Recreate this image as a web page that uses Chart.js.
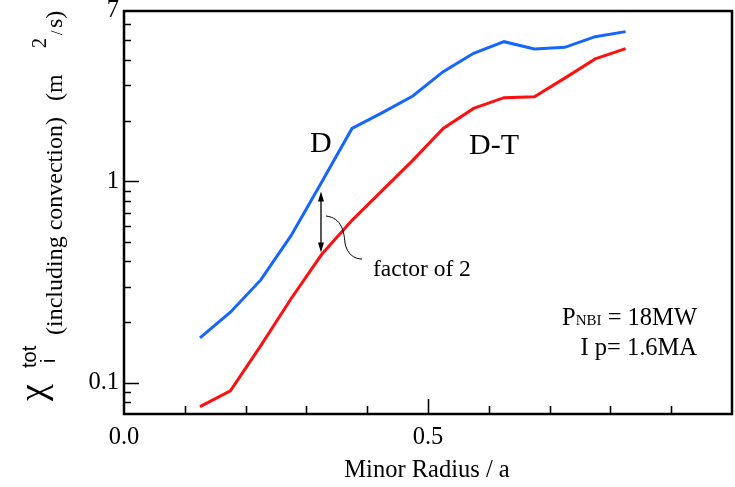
<!DOCTYPE html>
<html>
<head>
<meta charset="utf-8">
<script src="https://cdn.jsdelivr.net/npm/chart.js@4"></script>
<style>
  html, body { margin: 0; padding: 0; background: #fff; }
  #wrap { width: 735px; height: 487px; }
</style>
</head>
<body>
<div id="wrap"><canvas id="myChart" width="735" height="487"></canvas></div>
<script>
'use strict';

// minor radius r/a
const radius = [0.125, 0.175, 0.225, 0.275, 0.325, 0.375, 0.425, 0.475, 0.525, 0.575, 0.625, 0.675, 0.725, 0.775, 0.825];
// chi_i tot (m^2/s)
const chiD = [0.167, 0.224, 0.324, 0.539, 0.99, 1.83, 2.19, 2.65, 3.50, 4.32, 4.93, 4.54, 4.62, 5.22, 5.53];
const chiDT = [0.0762, 0.0912, 0.153, 0.262, 0.433, 0.640, 0.902, 1.27, 1.83, 2.30, 2.60, 2.63, 3.25, 4.05, 4.55];

const yTicks = [0.08, 0.09, 0.1, 0.2, 0.3, 0.4, 0.5, 0.6, 0.7, 0.8, 0.9, 1, 2, 3, 4, 5, 6, 7];
const yLabels = [0.1, 1, 7];
const xTicks = [0.1, 0.2, 0.3, 0.4, 0.5, 0.6, 0.7, 0.8, 0.9];
const xLabels = [0, 0.5];

const serif = '"Liberation Serif", "DejaVu Serif", serif';
const sans = '"Liberation Sans", Arial, sans-serif';

function pts(ys) {
    return radius.map((x, i) => ({x: x, y: ys[i]}));
}

function rotText(ctx, txt, x, y, font) {
    ctx.save();
    ctx.translate(x, y);
    ctx.rotate(-Math.PI / 2);
    ctx.font = font;
    ctx.fillText(txt, 0, 0);
    ctx.restore();
}

const decor = {
    id: 'decor',
    afterDraw(chart) {
        const ctx = chart.ctx;
        const a = chart.chartArea;
        const xs = chart.scales.x, ys = chart.scales.y;
        ctx.save();
        ctx.strokeStyle = '#000';
        ctx.fillStyle = '#000';

        // inward ticks
        ctx.lineWidth = 1.6;
        ctx.beginPath();
        yTicks.forEach(v => {
            if (v >= 7) return;
            const y = Math.round(ys.getPixelForValue(v)) + 0.5;
            const len = (v === 0.1 || v === 1) ? 15 : 7;
            ctx.moveTo(a.left, y);
            ctx.lineTo(a.left + len, y);
        });
        xTicks.forEach(v => {
            const x = Math.round(xs.getPixelForValue(v)) + 0.5;
            const len = Math.abs(v - 0.5) < 1e-6 ? 15 : 8;
            ctx.moveTo(x, a.bottom);
            ctx.lineTo(x, a.bottom - len);
        });
        ctx.stroke();

        // frame
        ctx.lineWidth = 2.5;
        ctx.strokeRect(a.left, a.top, a.right - a.left, a.bottom - a.top);

        // factor-of-2 arrow
        const ax = xs.getPixelForValue(0.324);
        const y1 = ys.getPixelForValue(0.89), y2 = ys.getPixelForValue(0.443);
        ctx.lineWidth = 1.3;
        ctx.beginPath();
        ctx.moveTo(ax, y1 + 6);
        ctx.lineTo(ax, y2 - 6);
        ctx.stroke();
        ctx.beginPath();
        ctx.moveTo(ax, y1); ctx.lineTo(ax - 3, y1 + 10); ctx.lineTo(ax + 3, y1 + 10); ctx.closePath();
        ctx.moveTo(ax, y2); ctx.lineTo(ax - 3, y2 - 10); ctx.lineTo(ax + 3, y2 - 10); ctx.closePath();
        ctx.fill();
        ctx.lineWidth = 1;
        ctx.beginPath();
        ctx.moveTo(326, 216);
        ctx.bezierCurveTo(342, 218, 344, 232, 345, 243);
        ctx.bezierCurveTo(347, 254, 354, 259, 362, 259);
        ctx.stroke();

        // labels in the plot
        ctx.textBaseline = 'alphabetic';
        ctx.textAlign = 'left';
        ctx.font = '30px ' + serif;
        ctx.fillText('D', 310, 152);
        ctx.fillText('D-T', 469, 154);
        ctx.font = '23.5px ' + serif;
        ctx.fillText('factor of 2', 373, 276);

        ctx.textAlign = 'right';
        ctx.font = '24.5px ' + serif;
        const rest = ' = 18MW';
        const wRest = ctx.measureText(rest).width;
        ctx.fillText(rest, 697, 325);
        ctx.font = '15px ' + serif;
        const wNbi = ctx.measureText('NBI').width;
        ctx.fillText('NBI', 697 - wRest, 325);
        ctx.font = '24.5px ' + serif;
        ctx.fillText('P', 697 - wRest - wNbi, 325);
        ctx.fillText('I p= 1.6MA', 697, 355);

        // y axis title
        ctx.textAlign = 'left';
        rotText(ctx, '\u03c7', 45, 401, '38px ' + serif);
        rotText(ctx, 'tot', 36, 368, '20px ' + sans);
        rotText(ctx, 'i', 55, 363, '20px ' + sans);
        rotText(ctx, '(including convection)', 62, 335, '24px ' + serif);
        rotText(ctx, '(m', 62, 101, '24px ' + serif);
        rotText(ctx, '2', 46, 48, '20px ' + serif);
        rotText(ctx, '/', 62, 35, '16px ' + serif);
        rotText(ctx, 's)', 62, 28, '24px ' + serif);

        // x axis title
        ctx.textAlign = 'center';
        ctx.font = '24.5px ' + serif;
        ctx.fillText('Minor Radius / a', 427, 477);
        ctx.restore();
    }
};

const config = {
    type: 'line',
    data: {
        datasets: [{
            label: 'D',
            data: pts(chiD),
            borderColor: '#1565ff',
            borderWidth: 3,
            pointRadius: 0,
            tension: 0
        }, {
            label: 'D-T',
            data: pts(chiDT),
            borderColor: '#ff1010',
            borderWidth: 3,
            pointRadius: 0,
            tension: 0
        }]
    },
    options: {
        responsive: false,
        animation: false,
        layout: {
            padding: {top: 11, right: 3, left: 0, bottom: 0}
        },
        plugins: {
            legend: {display: false},
            tooltip: {enabled: false}
        },
        scales: {
            x: {
                type: 'linear',
                min: 0,
                max: 1,
                grid: {display: false, drawTicks: false},
                border: {display: false},
                ticks: {
                    stepSize: 0.1,
                    autoSkip: false,
                    maxRotation: 0,
                    padding: 9,
                    color: '#000',
                    font: {family: serif, size: 24.5},
                    callback: v => xLabels.some(l => Math.abs(l - v) < 1e-6) ? v.toFixed(1) : ''
                },
                afterFit: s => {
                    s.height = 73;
                    s.paddingLeft = 0;
                    s.paddingRight = 0;
                }
            },
            y: {
                type: 'logarithmic',
                min: 0.07,
                max: 7,
                grid: {display: false, drawTicks: false},
                border: {display: false},
                afterBuildTicks: s => {
                    s.ticks = yTicks.map(v => ({value: v}));
                },
                ticks: {
                    autoSkip: false,
                    padding: 5,
                    color: '#000',
                    font: {family: serif, size: 24.5},
                    callback: v => yLabels.includes(v) ? String(v) : ''
                },
                afterFit: s => {
                    s.width = 124;
                    s.paddingTop = 0;
                    s.paddingBottom = 0;
                }
            }
        }
    },
    plugins: [decor]
};

let myChart = new Chart(document.getElementById('myChart'), config);
</script>
</body>
</html>
